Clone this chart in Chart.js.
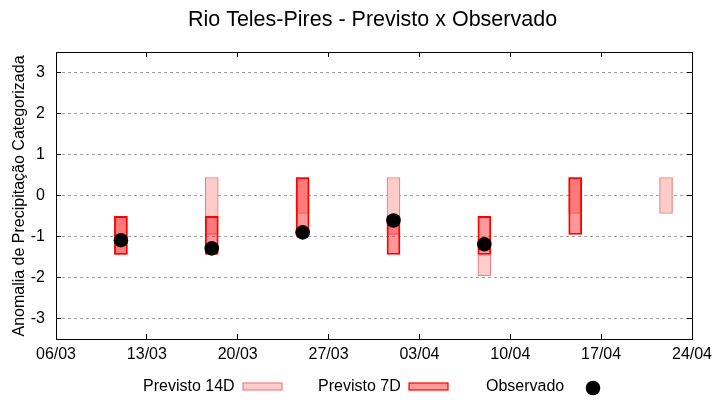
<!DOCTYPE html>
<html>
<head>
<meta charset="utf-8">
<script src="https://cdn.jsdelivr.net/npm/chart.js@4/dist/chart.umd.min.js"></script>
<style>
  html, body { margin: 0; padding: 0; background: #fff; }
  #wrap { width: 720px; height: 400px; }
</style>
</head>
<body>
<div id="wrap"><canvas id="c" width="720" height="400"></canvas></div>
<script>
// ---- data ----
const titleText = 'Rio Teles-Pires - Previsto x Observado';
const yTitle = 'Anomalia de Precipitação Categorizada';
const startDate = '06/03';
const xTickLabels = ['06/03', '13/03', '20/03', '27/03', '03/04', '10/04', '17/04', '24/04'];
const yTicks = [-3, -2, -1, 0, 1, 2, 3];
const dates = ['11/03', '18/03', '25/03', '01/04', '08/04', '15/04', '22/04'];
const prev14Low  = [-1.44, -0.95, -0.44, -0.95, -1.96, -0.44, -0.44];
const prev14High = [-0.51,  0.44,  0.44,  0.44, -1.44,  0.44,  0.44];
const prev7Low   = [-1.44, -1.44, -0.95, -1.44, -1.44, -0.95, null];
const prev7High  = [-0.51, -0.51,  0.44, -0.51, -0.51,  0.44, null];
const observed   = [-1.09, -1.29, -0.90, -0.61, -1.19, null, null];
const seriesNames = ['Previsto 14D', 'Previsto 7D', 'Observado'];

// ---- helpers ----
function dayOffset(s) {
  const [d, m] = s.split('/').map(Number);
  const [d0, m0] = startDate.split('/').map(Number);
  return Math.round((Date.UTC(2024, m - 1, d) - Date.UTC(2024, m0 - 1, d0)) / 86400000);
}
const xMax = dayOffset(xTickLabels[xTickLabels.length - 1]);
const rangeData = (lo, hi) => dates.map((d, i) => (lo[i] == null ? null : { x: dayOffset(d), y: [lo[i], hi[i]] })).filter(Boolean);
const pointData = dates.map((d, i) => (observed[i] == null ? null : { x: dayOffset(d), y: observed[i] })).filter(Boolean);

const FONT = '"Liberation Sans", Arial, sans-serif';
const C14_FILL = '#ffcccc', C14_BORDER = '#f08080';
const C7_FILL = 'rgba(255,0,0,0.4)', C7_BORDER = '#ff0000';

const decor = {
  id: 'decor',
  beforeDatasetsDraw(chart) {
    const { ctx, chartArea: a, scales } = chart;
    ctx.save();
    ctx.strokeStyle = '#a0a0a0';
    ctx.lineWidth = 1;
    ctx.setLineDash([3, 3]);
    yTicks.forEach(v => {
      const y = Math.floor(scales.y.getPixelForValue(v)) + 0.5;
      ctx.beginPath(); ctx.moveTo(a.left, y); ctx.lineTo(a.right, y); ctx.stroke();
    });
    ctx.restore();
  },
  afterDraw(chart) {
    const { ctx, chartArea: a, scales } = chart;
    ctx.save();
    ctx.setLineDash([]);
    ctx.strokeStyle = '#000';
    ctx.lineWidth = 1;
    ctx.strokeRect(Math.floor(a.left) + 0.5, Math.floor(a.top) + 0.5, Math.round(a.right - a.left), Math.round(a.bottom - a.top));
    const tl = 5;
    yTicks.forEach(v => {
      const y = Math.floor(scales.y.getPixelForValue(v)) + 0.5;
      ctx.beginPath();
      ctx.moveTo(a.left, y); ctx.lineTo(a.left + tl, y);
      ctx.moveTo(a.right, y); ctx.lineTo(a.right - tl, y);
      ctx.stroke();
    });
    xTickLabels.forEach(lbl => {
      const x = Math.floor(scales.x.getPixelForValue(dayOffset(lbl))) + 0.5;
      ctx.beginPath();
      ctx.moveTo(x, a.bottom); ctx.lineTo(x, a.bottom - tl);
      ctx.moveTo(x, a.top); ctx.lineTo(x, a.top + tl);
      ctx.stroke();
    });
    ctx.fillStyle = '#000';
    ctx.font = '21.5px ' + FONT;
    ctx.textAlign = 'center';
    ctx.textBaseline = 'middle';
    ctx.fillText(titleText, 372.5, 20);
    ctx.save();
    ctx.translate(20, 196);
    ctx.rotate(-Math.PI / 2);
    ctx.font = '16px ' + FONT;
    ctx.fillText(yTitle, 0, 0);
    ctx.restore();
    ctx.font = '16px ' + FONT;
    ctx.textAlign = 'left';
    ctx.textBaseline = 'middle';
    const ly = 386.5;
    ctx.fillText(seriesNames[0], 143, ly);
    ctx.fillStyle = C14_FILL; ctx.fillRect(243, 383, 39, 7);
    ctx.strokeStyle = C14_BORDER; ctx.lineWidth = 1.2; ctx.strokeRect(243, 383, 39, 7);
    ctx.fillStyle = '#000';
    ctx.fillText(seriesNames[1], 318, ly);
    ctx.fillStyle = '#ff9999'; ctx.fillRect(409, 383, 39, 7);
    ctx.strokeStyle = C7_BORDER; ctx.strokeRect(409, 383, 39, 7);
    ctx.fillStyle = '#000';
    ctx.fillText(seriesNames[2], 486, ly);
    ctx.beginPath(); ctx.arc(593, 388, 7.3, 0, Math.PI * 2); ctx.fill();
    ctx.restore();
  }
};

new Chart(document.getElementById('c'), {
  type: 'bar',
  data: {
    datasets: [
      {
        label: seriesNames[0], data: rangeData(prev14Low, prev14High),
        backgroundColor: C14_FILL, borderColor: C14_BORDER, borderWidth: 1.2,
        borderSkipped: false, grouped: false, barThickness: 13, order: 3
      },
      {
        label: seriesNames[1], data: rangeData(prev7Low, prev7High),
        backgroundColor: C7_FILL, borderColor: C7_BORDER, borderWidth: 1.2,
        borderSkipped: false, grouped: false, barThickness: 13, order: 2
      },
      {
        type: 'line', label: seriesNames[2], data: pointData, showLine: false,
        pointRadius: 7.3, pointHoverRadius: 7.3, pointStyle: 'circle',
        backgroundColor: '#000', borderColor: '#000', borderWidth: 0, order: 1
      }
    ]
  },
  options: {
    responsive: false,
    animation: false,
    events: [],
    layout: { padding: { top: 52, right: 28, bottom: 31, left: 0 } },
    plugins: { legend: { display: false }, title: { display: false }, tooltip: { enabled: false } },
    scales: {
      x: {
        type: 'linear', min: 0, max: xMax, offset: false,
        afterFit: s => { s.height = 30; },
        grid: { display: false, offset: false, drawTicks: false },
        border: { display: false },
        ticks: {
          stepSize: 7, autoSkip: false, maxRotation: 0, padding: 6,
          color: '#000', font: { family: FONT, size: 16 },
          callback: v => xTickLabels[Math.round(v / 7)]
        },
        afterBuildTicks: s => { s.ticks = xTickLabels.map(l => ({ value: dayOffset(l) })); }
      },
      y: {
        min: -3.5, max: 3.5,
        afterFit: s => { s.width = 56; },
        grid: { display: false, drawTicks: false },
        border: { display: false },
        ticks: {
          padding: 11, color: '#000', font: { family: FONT, size: 16 },
          callback: v => String(v)
        },
        afterBuildTicks: s => { s.ticks = yTicks.map(v => ({ value: v })); }
      }
    }
  },
  plugins: [decor]
});
</script>
</body>
</html>
